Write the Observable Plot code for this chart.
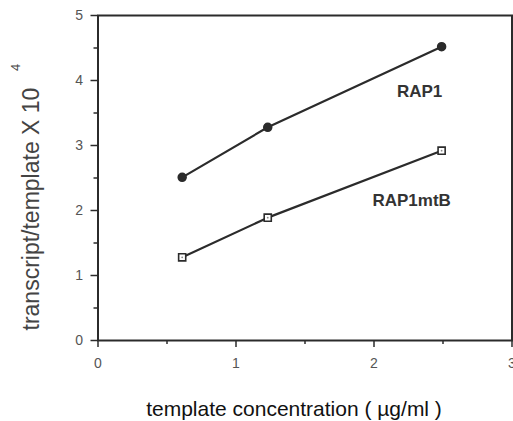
<!DOCTYPE html>
<html><head><meta charset="utf-8">
<script src="https://cdn.jsdelivr.net/npm/d3@7"></script>
<script src="https://cdn.jsdelivr.net/npm/@observablehq/plot@0.6"></script>
<style>body{margin:0;background:#fff;} svg{display:block;}</style>
</head><body><div id="chart"></div>
<script>
const concentration = [0.61, 1.23, 2.49];
const rap1 = [2.51, 3.28, 4.52];
const rap1mtB = [1.28, 1.89, 2.92];
const seriesNames = ["RAP1", "RAP1mtB"];
const xTicks = [0, 1, 2, 3];
const xMinorTicks = [0.5, 1.5, 2.5];
const yTicks = [0, 1, 2, 3, 4, 5];
const yMinorTicks = [0.5, 1.5, 2.5, 3.5, 4.5];
const yLabel = "transcript/template X 10";
const yLabelExp = "4";
const xLabel = "template concentration ( µg/ml )";

const seriesValues = [rap1, rap1mtB];
const rows = seriesNames.flatMap((s, k) => concentration.map((c, i) => ({series: s, x: c, y: seriesValues[k][i]})));
const rowsA = rows.filter(d => d.series === seriesNames[0]);
const rowsB = rows.filter(d => d.series === seriesNames[1]);
const lastA = rowsA.slice(-1);
const lastB = rowsB.slice(-1);

const ink = "#2b2b2b";
const chart = Plot.plot({
  width: 513,
  height: 421,
  marginLeft: 97.5,
  marginRight: 1.5,
  marginTop: 15,
  marginBottom: 81,
  style: {fontFamily: "'Liberation Sans', Arial, Helvetica, sans-serif", background: "#fff"},
  x: {domain: [0, 3]},
  y: {domain: [0, 5]},
  marks: [
    Plot.axisX(xTicks, {tickSize: 7, tickPadding: 11, tickFormat: d3.format("d"), fontSize: 14, color: "#555", stroke: ink, strokeWidth: 1.5, label: null}),
    Plot.axisX(xMinorTicks, {tickSize: 4, tickFormat: () => "", stroke: ink, strokeWidth: 1.5, label: null}),
    Plot.axisY(yTicks, {tickSize: 7, tickPadding: 8, tickFormat: d3.format("d"), fontSize: 14, color: "#555", stroke: ink, strokeWidth: 1.5, label: null}),
    Plot.axisY(yMinorTicks, {tickSize: 4, tickFormat: () => "", stroke: ink, strokeWidth: 1.5, label: null}),
    Plot.frame({stroke: ink, strokeWidth: 2}),
    Plot.line(rowsA, {x: "x", y: "y", stroke: ink, strokeWidth: 2.2}),
    Plot.line(rowsB, {x: "x", y: "y", stroke: ink, strokeWidth: 2.2}),
    Plot.dot(rowsA, {x: "x", y: "y", r: 4, fill: ink, stroke: ink}),
    Plot.dot(rowsB, {x: "x", y: "y", symbol: "square", r: 4, fill: "#fff", stroke: ink, strokeWidth: 1.6}),
    Plot.dot(rowsB, {x: "x", y: "y", r: 0.9, fill: "#888"}),
    Plot.text(lastA, {x: "x", y: "y", text: "series", dx: -22, dy: 45, fontSize: 17, fontWeight: "bold", fill: "#333"}),
    Plot.text(lastB, {x: "x", y: "y", text: "series", dx: -30, dy: 50, fontSize: 17, fontWeight: "bold", fill: "#333"}),
    Plot.text([yLabel], {frameAnchor: "bottom-left", rotate: -90, textAnchor: "start", lineAnchor: "middle", dx: -66.5, dy: -10, fontSize: 23, fill: "#444"}),
    Plot.text([yLabelExp], {frameAnchor: "top-left", rotate: -90, textAnchor: "middle", lineAnchor: "middle", dx: -82, dy: 52, fontSize: 13, fill: "#444"}),
    Plot.text([xLabel], {frameAnchor: "bottom", textAnchor: "middle", lineAnchor: "middle", dx: -11, dy: 69, fontSize: 21, fill: "#111"})
  ]
});
document.getElementById("chart").appendChild(chart);
</script>
</body></html>
